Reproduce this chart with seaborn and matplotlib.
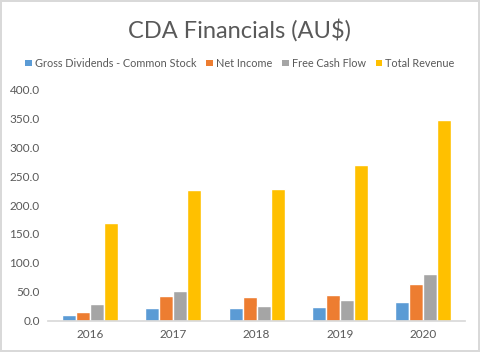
import numpy as np
import pandas as pd
import matplotlib
matplotlib.use("Agg")
import matplotlib.pyplot as plt
import seaborn as sns
from matplotlib.patches import Patch

years = ["2016", "2017", "2018", "2019", "2020"]
gross_dividends = [10.0, 22.0, 22.0, 23.7, 33.0]
net_income = [15.6, 42.7, 41.0, 44.4, 64.0]
free_cash_flow = [29.0, 52.0, 25.4, 35.7, 81.0]
total_revenue = [169.0, 226.5, 228.0, 269.0, 347.0]
series_names = ["Gross Dividends - Common Stock", "Net Income", "Free Cash Flow", "Total Revenue"]
colors = ["#5B9BD5", "#ED7D31", "#A5A5A5", "#FFC000"]

# long format for seaborn
df = pd.DataFrame({
    "year": years * 4,
    "series": np.repeat(series_names, len(years)),
    "value": gross_dividends + net_income + free_cash_flow + total_revenue,
})

sns.set_theme(style="white")
plt.rcParams['font.family'] = ['Lato', 'DejaVu Sans']

fig = plt.figure(figsize=(4.8, 3.52), dpi=100)
fig.patch.set_edgecolor("#D9D9D9")
fig.patch.set_linewidth(1.5)
ax = fig.add_axes([0.1, 0.089, 0.869, 0.657])

sns.barplot(data=df, x="year", y="value", hue="series", palette=colors,
            width=0.67, saturation=1, ax=ax, legend=False)

ax.set_ylim(0, 400)
ax.set_yticks(np.arange(0, 401, 50))
ax.set_yticklabels([f"{v:.1f}" for v in np.arange(0, 401, 50)])
ax.set_xlabel("")
ax.set_ylabel("")
ax.tick_params(axis="both", labelsize=8.5, colors="#595959", length=0, pad=6)
for s in ["top", "right", "left"]:
    ax.spines[s].set_visible(False)
ax.spines["bottom"].set_color("#D9D9D9")

fig.text(0.5, 0.915, "CDA Financials (AU$)", ha="center", va="center",
         fontsize=17, color="#595959")

handles = [Patch(facecolor=c, edgecolor="none") for c in colors]
fig.legend(handles, series_names, loc="center", bbox_to_anchor=(0.5, 0.82), ncol=4,
           frameon=False, fontsize=7.8, handlelength=0.6, handleheight=0.6,
           handletextpad=0.3, columnspacing=0.9, labelcolor="#595959")

fig.savefig("out.png", dpi=100)
